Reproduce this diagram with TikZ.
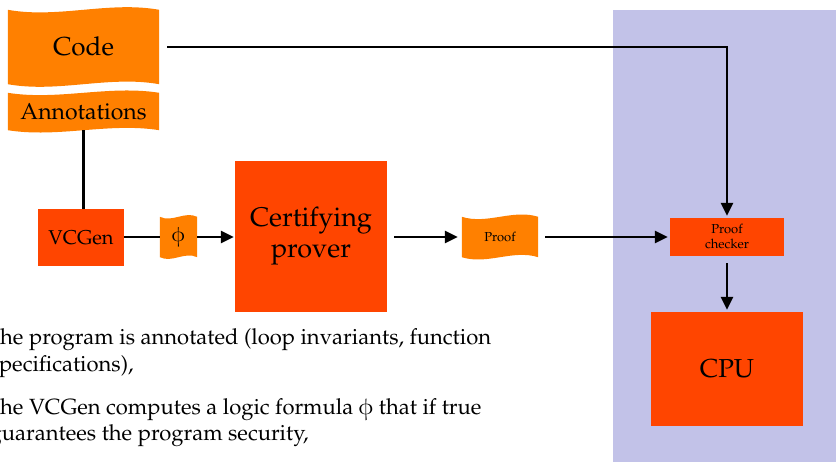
\documentclass[tikz,border=0pt]{standalone}
\usepackage[T1]{fontenc}
\usepackage{pxfonts}
\usetikzlibrary{arrows.meta,backgrounds,calc}

\definecolor{bannerorange}{RGB}{255,128,0}
\definecolor{boxred}{RGB}{255,69,0}
\definecolor{hostlavender}{RGB}{194,194,232}

% upright phi where the math fonts provide one
\newcommand\formulaphi{\ensuremath{\ifdefined\phiup\phiup\else\phi\fi}}

\tikzset{
  box/.style={fill=boxred, inner sep=0pt, align=center},
  banner/.style={inner sep=0pt, align=center},
  link/.style={line width=2.7pt},
  flow/.style={line width=2.7pt, -{Triangle[length=13pt,width=12pt]}},
  para/.style={anchor=base west, inner sep=0pt, font=\fontsize{22}{27}\selectfont},
}

% wavy flag filling behind a banner node: #1 node name, #2 bend
\newcommand\wavefill[2]{%
  \fill[bannerorange] let \p1=(#1.north west), \p2=(#1.south east), \n1={(\x2-\x1)/3} in
    (\x1,\y1) .. controls (\x1+\n1,\y1-#2) and (\x2-\n1,\y1+#2) .. (\x2,\y1)
    -- (\x2,\y2) .. controls (\x2-\n1,\y2+#2) and (\x1+\n1,\y2-#2) .. (\x1,\y2) -- cycle;}

\begin{document}
\begin{tikzpicture}[x=1pt, y=-1pt]
  \useasboundingbox (0,0) rectangle (836,462);
  \clip (0,0) rectangle (836,462);

  % trusted host side
  \fill[hostlavender] (613,10) rectangle (836,470);

  % banners
  \node[banner, minimum width=151pt, minimum height=74pt, font=\fontsize{26}{31}\selectfont] (code) at (83.5,47) {Code};
  \node[banner, minimum width=151pt, minimum height=37pt, font=\fontsize{23}{28}\selectfont] (annot) at (83.5,111.5) {Annotations};
  \node[banner, minimum width=37pt, minimum height=40pt, font=\fontsize{20}{24}\selectfont] (phi) at (178.5,237) {\formulaphi};
  \node[banner, minimum width=76pt, minimum height=40pt, font=\fontsize{13}{15}\selectfont] (proof) at (500,237) {Proof};

  % boxes
  \node[box, minimum width=86pt, minimum height=57pt, font=\fontsize{20}{24}\selectfont] (vcgen) at (81,237.5) {VCGen};
  \node[box, minimum width=152pt, minimum height=151pt, font=\fontsize{27}{31}\selectfont] (prover) at (311,236.5) {Certifying\\prover};
  \node[box, minimum width=114pt, minimum height=38pt, font=\fontsize{13}{15}\selectfont] (checker) at (727,237) {Proof\\checker};
  \node[box, minimum width=152pt, minimum height=114pt, font=\fontsize{26}{31}\selectfont] (cpu) at (727,369) {CPU};

  \begin{scope}[on background layer]
    \wavefill{code}{9pt}
    \wavefill{annot}{8pt}
    \wavefill{phi}{6pt}
    \wavefill{proof}{8pt}
  \end{scope}

  % connectors
  \draw[link] (annot.south) -- (annot.south |- vcgen.north);
  \draw[link] (vcgen.east |- phi.west) -- (phi.west);
  \draw[flow, shorten >=1pt] (phi.east) -- (prover.west |- phi.east);
  \draw[flow, shorten <=7pt, shorten >=4pt] (prover.east |- proof.west) -- (proof.west);
  \draw[flow, shorten <=7pt, shorten >=2pt] (proof.east) -- (checker.west);
  \draw[flow, shorten <=8pt, shorten >=2pt] (code.east) -| (checker.north);
  \draw[flow, shorten <=7pt, shorten >=2pt] (checker.south) -- (cpu.north);

  % explanation
  \node[para] (para1) at (-13.5,345) {The program is annotated (loop invariants, function};
  \node[para] (para2) at (-10.5,372) {specifications),};
  \node[para] (para3) at (-13.5,414) {The VCGen computes a logic formula \formulaphi{} that if true};
  \node[para] (para4) at (-10.5,441) {guarantees the program security,};
\end{tikzpicture}
\end{document}
